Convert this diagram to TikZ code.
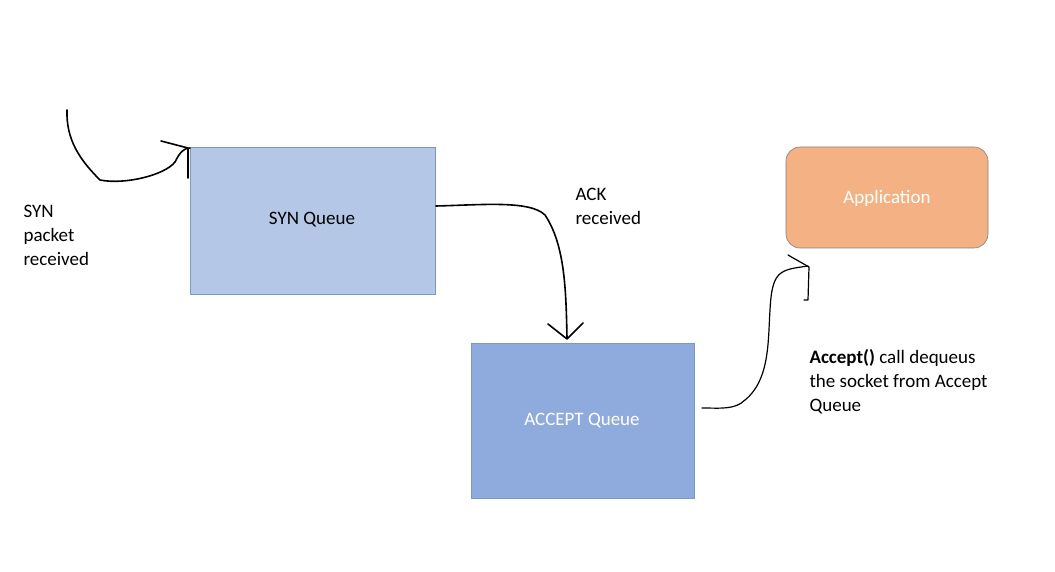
\documentclass[tikz,border=0pt]{standalone}
\usepackage{fontspec}
\setmainfont{Carlito}
\begin{document}
\begin{tikzpicture}[x=1pt,y=-1pt,
  box/.style={draw=#1,line width=0.6pt,minimum width=0,inner sep=0},
  lbl/.style={font=\fontsize{19}{24}\selectfont,align=left,anchor=north west},
  hand/.style={line width=1.6pt,line cap=round,line join=round}]
\useasboundingbox (0,0) rectangle (1055,572);
\definecolor{synf}{HTML}{B4C7E7}\definecolor{accf}{HTML}{8FAADC}
\definecolor{appf}{HTML}{F4B183}\definecolor{bd}{HTML}{41719C}
\fill[synf,draw=bd!70,line width=0.6pt] (190,147) rectangle (435,294);
\node (syn) at (312,220) {\fontsize{19}{24}\selectfont SYN Queue};
\fill[accf,draw=bd!70,line width=0.6pt] (471,343) rectangle (694,498);
\node[text=white] (acc) at (582,421) {\fontsize{19}{24}\selectfont ACCEPT Queue};
\filldraw[fill=appf,draw=gray,line width=0.6pt,rounded corners=14pt] (786,147) rectangle (988,248);
\node[text=white] (app) at (887,198) {\fontsize{19}{24}\selectfont Application};
\node[lbl] (t1) at (20,202) {SYN\\packet\\received};
\node[lbl] (t2) at (572,185) {ACK\\received};
\node[lbl] (t3) at (806,346) {\textbf{Accept()} call dequeus\\the socket from Accept\\Queue};
\coordinate (s0) at (67,110);
\draw[hand] (s0) .. controls (66,140) and (80,160) .. (100,180) .. controls (125,185) and (165,175) .. (175,162) .. controls (180,152) and (184,148) .. (190,148);
\draw[hand] (161,141) -- (188,148) -- (188,178);
\draw[hand] (436,206) .. controls (480,205) and (530,200) .. (545,215) .. controls (565,245) and (566,290) .. (567,338);
\draw[hand] (548,324) -- (567,339) -- (583,323);
\draw[hand,line width=1.2pt] (702,408) .. controls (720,408) and (735,410) .. (745,400) .. controls (770,380) and (768,340) .. (770,310) .. controls (772,270) and (780,270) .. (808,266);
\draw[hand,line width=1.2pt] (788,255) -- (809,267) -- (808,300) -- (804,300);
\end{tikzpicture}
\end{document}
